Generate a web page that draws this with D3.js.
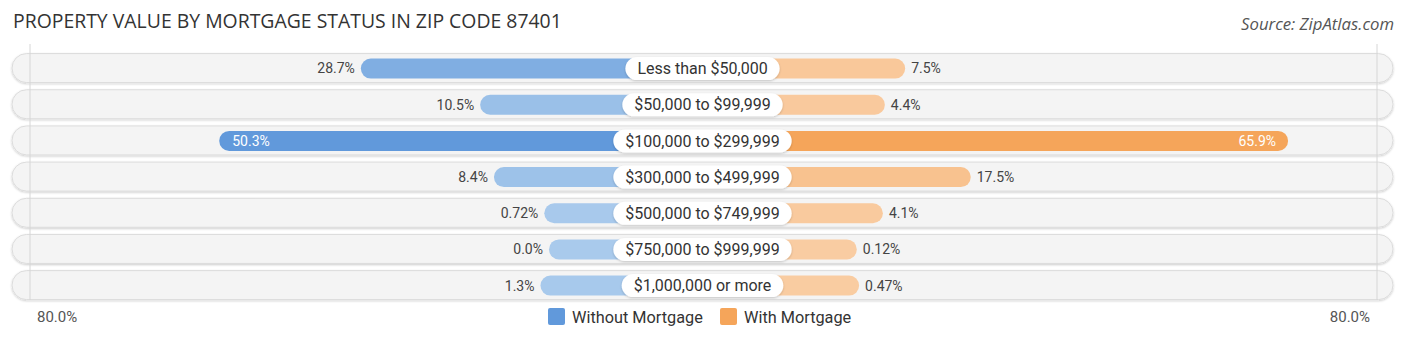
<!DOCTYPE html>
<html>
<head>
<meta charset="utf-8">
<script src="https://cdn.jsdelivr.net/npm/d3@7"></script>
<style>
  html, body { margin: 0; padding: 0; background: #ffffff; }
  svg { display: block; }
</style>
</head>
<body>
<svg id="chart" width="1406" height="340"></svg>
<script>
// Property value brackets and share of owner-occupied homes (%)
const categories = [
  "Less than $50,000",
  "$50,000 to $99,999",
  "$100,000 to $299,999",
  "$300,000 to $499,999",
  "$500,000 to $749,999",
  "$750,000 to $999,999",
  "$1,000,000 or more"
];
const withoutMortgage = [28.7, 10.5, 50.3, 8.4, 0.72, 0.0, 1.3];
const withMortgage = [7.5, 4.4, 65.9, 17.5, 4.1, 0.12, 0.47];
const valueLabelsWithout = ["28.7%", "10.5%", "50.3%", "8.4%", "0.72%", "0.0%", "1.3%"];
const valueLabelsWith = ["7.5%", "4.4%", "65.9%", "17.5%", "4.1%", "0.12%", "0.47%"];
const axisMax = 80;
const axisLabel = "80.0%";
const seriesNames = ["Without Mortgage", "With Mortgage"];

const svg = d3.select("#chart");
const cx = 702.5;          // centre line where the bracket labels sit
const inner = 153.5;       // half-width reserved under the centre label

const x = d3.scaleLinear().domain([0, axisMax]).range([0, 524.5]);
const y = d3.scaleBand().domain(categories).range([50, 303.2]);

const blueScale = d3.scaleLinear().domain([0, d3.max(withoutMortgage)])
  .range(["#a9caec", "#6199db"]).interpolate(d3.interpolateRgb);
const orangeScale = d3.scaleLinear().domain([0, d3.max(withMortgage)])
  .range(["#f9cca2", "#f5a55a"]).interpolate(d3.interpolateRgb);

const defs = svg.append("defs");
const f = defs.append("filter").attr("id", "trackShadow")
  .attr("x", "-5%").attr("y", "-30%").attr("width", "110%").attr("height", "170%");
f.append("feDropShadow").attr("dx", 0).attr("dy", 1).attr("stdDeviation", 1.3)
  .attr("flood-color", "#000").attr("flood-opacity", 0.2);

// Title and source
const title = svg.append("text")
  .attr("x", 13).attr("y", 28)
  .attr("font-family", "'Open Sans', sans-serif")
  .attr("font-size", 18)
  .attr("fill", "#333")
  .text("PROPERTY VALUE BY MORTGAGE STATUS IN ZIP CODE 87401");
{
  const len = title.node().getComputedTextLength();
  title.attr("font-size", 18 * 549 / len);
}
const source = svg.append("text")
  .attr("x", 1394).attr("y", 30)
  .attr("text-anchor", "end")
  .attr("font-family", "'Open Sans', sans-serif")
  .attr("font-style", "italic")
  .attr("font-size", 16)
  .attr("fill", "#555")
  .text("Source: ZipAtlas.com");
{
  const len = source.node().getComputedTextLength();
  source.attr("font-size", 16 * 153 / len);
}

// Background tracks
const trackH = 29;
const trackL = 12, trackR = 1393;
svg.append("g").selectAll("rect")
  .data(categories)
  .join("rect")
  .attr("x", trackL)
  .attr("y", d => y(d) + y.bandwidth() / 2 - trackH / 2)
  .attr("width", trackR - trackL)
  .attr("height", trackH)
  .attr("rx", trackH / 2)
  .attr("fill", "#f4f4f4")
  .attr("stroke", "#dcdcdc")
  .attr("stroke-width", 1)
  .attr("filter", "url(#trackShadow)");

// Faint guide lines at the outer limits
svg.append("g").selectAll("line")
  .data([trackL + 18, trackR - 16])
  .join("line")
  .attr("x1", d => d).attr("x2", d => d)
  .attr("y1", 44).attr("y2", 300)
  .attr("stroke", "#d6d6d6").attr("stroke-width", 1);

const barH = 20;
const rows = categories.map((c, i) => ({
  cat: c,
  wo: withoutMortgage[i], w: withMortgage[i],
  woLab: valueLabelsWithout[i], wLab: valueLabelsWith[i]
}));
const cy = d => y(d.cat) + y.bandwidth() / 2 + 0.5;

// Left bars (without mortgage)
svg.append("g").selectAll("rect")
  .data(rows)
  .join("rect")
  .attr("x", d => cx - inner - x(d.wo))
  .attr("y", d => cy(d) - barH / 2)
  .attr("width", d => inner + x(d.wo))
  .attr("height", barH)
  .attr("rx", barH / 2)
  .attr("fill", d => blueScale(d.wo));

// Right bars (with mortgage)
svg.append("g").selectAll("rect")
  .data(rows)
  .join("rect")
  .attr("x", cx)
  .attr("y", d => cy(d) - barH / 2)
  .attr("width", d => inner + x(d.w))
  .attr("height", barH)
  .attr("rx", barH / 2)
  .attr("fill", d => orangeScale(d.w));

const insideThreshold = 40;
const valFont = "Roboto, 'Noto Sans', sans-serif";

// Value labels, left
svg.append("g").selectAll("text")
  .data(rows)
  .join("text")
  .attr("x", d => d.wo > insideThreshold ? cx - inner - x(d.wo) + 13 : cx - inner - x(d.wo) - 6)
  .attr("y", d => cy(d))
  .attr("dy", "0.35em")
  .attr("text-anchor", d => d.wo > insideThreshold ? "start" : "end")
  .attr("font-family", valFont)
  .attr("font-size", 14)
  .attr("fill", d => d.wo > insideThreshold ? "#ffffff" : "#444")
  .text(d => d.woLab);

// Value labels, right
svg.append("g").selectAll("text")
  .data(rows)
  .join("text")
  .attr("x", d => d.w > insideThreshold ? cx + inner + x(d.w) - 12 : cx + inner + x(d.w) + 6)
  .attr("y", d => cy(d))
  .attr("dy", "0.35em")
  .attr("text-anchor", d => d.w > insideThreshold ? "end" : "start")
  .attr("font-family", valFont)
  .attr("font-size", 14)
  .attr("fill", d => d.w > insideThreshold ? "#ffffff" : "#444")
  .text(d => d.wLab);

// Centre bracket labels in white pills
const pills = svg.append("g").selectAll("g")
  .data(rows)
  .join("g")
  .attr("transform", d => `translate(${cx},${cy(d)})`);
pills.each(function(d) {
  const g = d3.select(this);
  const r = g.append("rect");
  const t = g.append("text")
    .attr("text-anchor", "middle")
    .attr("dy", "0.35em")
    .attr("font-family", valFont)
    .attr("font-size", 16)
    .attr("fill", "#333")
    .text(d.cat);
  const tw = t.node().getComputedTextLength();
  const pw = tw + 24, ph = 23;
  r.attr("x", -pw / 2).attr("y", -ph / 2)
    .attr("width", pw).attr("height", ph)
    .attr("rx", ph / 2)
    .attr("fill", "#ffffff")
    .attr("filter", "url(#trackShadow)");
});

// Axis end labels
svg.append("text")
  .attr("x", 37).attr("y", 317).attr("dy", "0.35em")
  .attr("font-family", valFont).attr("font-size", 15).attr("fill", "#555")
  .text(axisLabel);
svg.append("text")
  .attr("x", 1370).attr("y", 317).attr("dy", "0.35em")
  .attr("text-anchor", "end")
  .attr("font-family", valFont).attr("font-size", 15).attr("fill", "#555")
  .text(axisLabel);

// Legend
const legend = svg.append("g");
const legendItems = [
  { name: seriesNames[0], color: "#6199db", x: 548 },
  { name: seriesNames[1], color: "#f5a55a", x: 720 }
];
legendItems.forEach(it => {
  legend.append("rect")
    .attr("x", it.x).attr("y", 308)
    .attr("width", 17).attr("height", 17)
    .attr("rx", 2)
    .attr("fill", it.color);
  legend.append("text")
    .attr("x", it.x + 24).attr("y", 317).attr("dy", "0.35em")
    .attr("font-family", valFont).attr("font-size", 16.3).attr("fill", "#333")
    .text(it.name);
});
</script>
</body>
</html>
